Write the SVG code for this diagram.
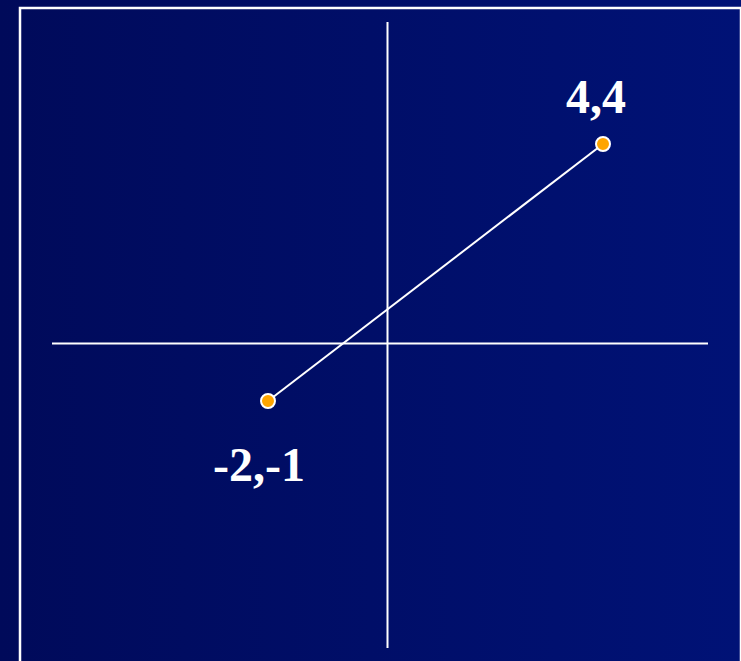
<svg xmlns="http://www.w3.org/2000/svg" width="741" height="661" viewBox="0 0 741 661">
<defs>
<linearGradient id="bg" x1="0" y1="0" x2="1" y2="0">
<stop offset="0" stop-color="#000a5a"/>
<stop offset="1" stop-color="#001276"/>
</linearGradient>
<style>
.ax{stroke:#ffffff;stroke-width:2;fill:none}
.pt{fill:#ffa500;stroke:#ffffff;stroke-width:2}
.lb{font-family:"Liberation Serif","Times New Roman",serif;font-weight:bold;font-size:48px;fill:#ffffff;text-anchor:middle}
</style>
</defs>
<rect x="0" y="0" width="741" height="661" fill="url(#bg)"/>
<rect x="20" y="8" width="721" height="670" fill="none" stroke="#ffffff" stroke-width="2.5"/>
<g id="connectors">
<line class="ax" x1="387.5" y1="22" x2="387.5" y2="648"/>
<line class="ax" x1="52" y1="343.5" x2="708" y2="343.5"/>
<line class="ax" x1="268" y1="401" x2="603" y2="144"/>
</g>
<g id="p1">
<circle class="pt" cx="603" cy="144" r="7"/>
<text class="lb" x="596" y="113">4,4</text>
</g>
<g id="p2">
<circle class="pt" cx="268" cy="401" r="7"/>
<text class="lb" x="259" y="481">-2,-1</text>
</g>
</svg>
